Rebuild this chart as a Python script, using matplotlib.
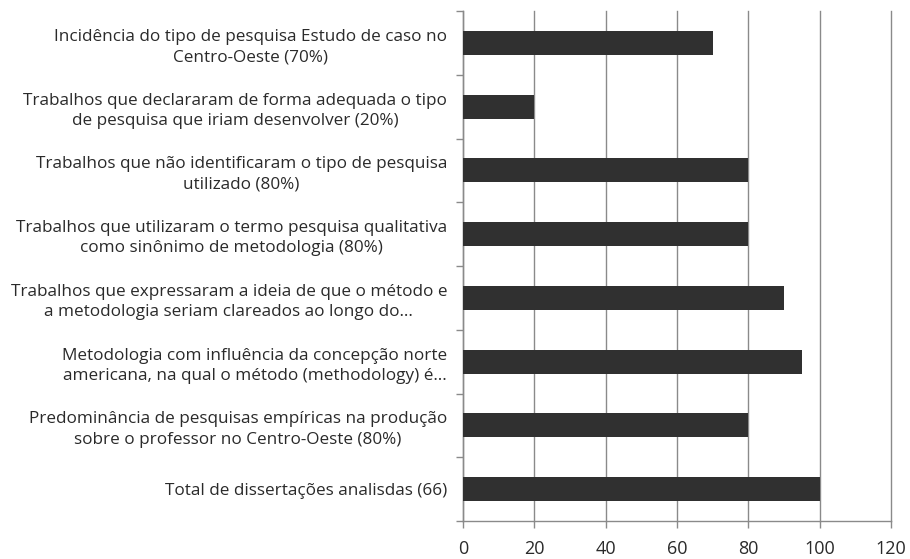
import numpy as np
import matplotlib.pyplot as plt

# categories from top to bottom
labels = [
    'Incidência do tipo de pesquisa Estudo de caso no\nCentro-Oeste (70%)',
    'Trabalhos que declararam de forma adequada o tipo\nde pesquisa que iriam desenvolver (20%)',
    'Trabalhos que não identificaram o tipo de pesquisa\nutilizado (80%)',
    'Trabalhos que utilizaram o termo pesquisa qualitativa\ncomo sinônimo de metodologia (80%)',
    'Trabalhos que expressaram a ideia de que o método e\na metodologia seriam clareados ao longo do…',
    'Metodologia com influência da concepção norte\namericana, na qual o método (methodology) é…',
    'Predominância de pesquisas empíricas na produção\nsobre o professor no Centro-Oeste (80%)',
    'Total de dissertações analisdas (66)',
]
values = [70, 20, 80, 80, 90, 95, 80, 100]
xticks = [0, 20, 40, 60, 80, 100, 120]

plt.rcParams['font.family'] = ['Open Sans', 'DejaVu Sans']

fig = plt.figure(figsize=(9.1, 5.59), dpi=100)
ax = fig.add_axes([463/910, 1 - 521/559, (891 - 463)/910, (521 - 11)/559])

n = len(values)
ypos = np.arange(n)[::-1]
ax.barh(ypos, values, height=0.38, color='#303030', zorder=3)

ax.set_xlim(0, 120)
ax.set_ylim(-0.5, n - 0.5)
ax.set_xticks(xticks)
ax.xaxis.grid(True, color='#8a8a8a', linewidth=1.0, zorder=0)
for gl in ax.get_xgridlines():
    gl.set_clip_on(False)

ax.set_yticks(ypos)
ax.set_yticklabels(labels, fontsize=12.3, color='#2a2a2a', linespacing=1.35)
ax.set_yticks(np.arange(n + 1) - 0.5, minor=True)
ax.tick_params(axis='y', which='major', length=0, pad=11.5)
ax.tick_params(axis='y', which='minor', length=5, color='#8a8a8a', width=1)
ax.tick_params(axis='x', length=5, color='#8a8a8a', width=1, pad=9,
               labelsize=13, labelcolor='#2a2a2a')
for lbl in ax.get_yticklabels():
    lbl.set_horizontalalignment('right')
    lbl.set_multialignment('center')

for s in ['top', 'right']:
    ax.spines[s].set_visible(False)
for s in ['left', 'bottom']:
    ax.spines[s].set_color('#8a8a8a')
    ax.spines[s].set_linewidth(1)

fig.savefig('out.png', dpi=100)
